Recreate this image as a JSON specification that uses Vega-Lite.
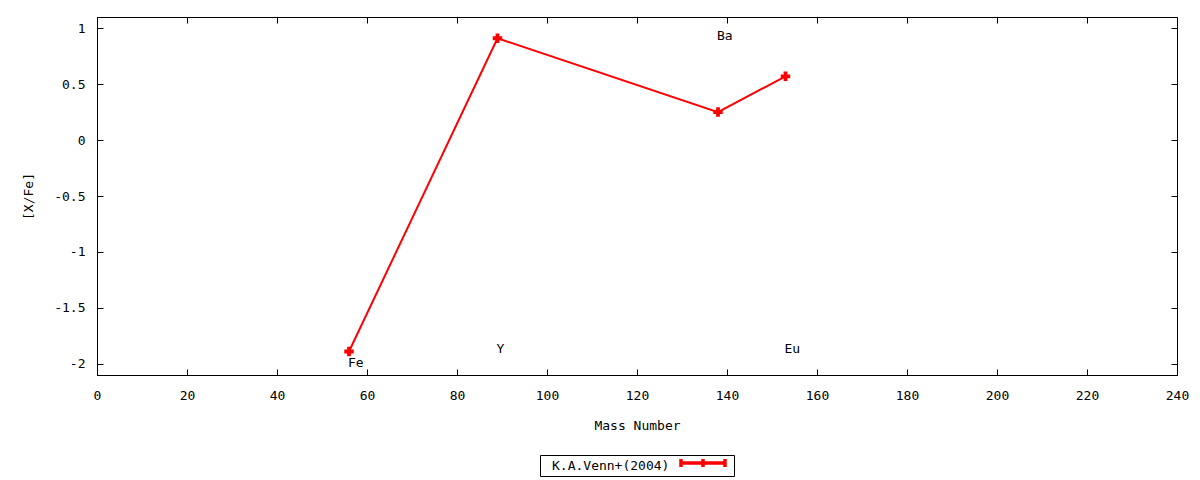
{
  "$schema": "https://vega.github.io/schema/vega-lite/v6.json",
  "width": 1080,
  "height": 358,
  "autosize": "none",
  "padding": {"left": 97, "top": 17, "right": 23, "bottom": 105},
  "background": "white",
  "config": {
    "font": "DejaVu Sans Mono",
    "view": {"stroke": "black", "strokeWidth": 1},
    "axis": {
      "labelFont": "DejaVu Sans Mono",
      "titleFont": "DejaVu Sans Mono",
      "labelFontSize": 13,
      "titleFontSize": 13,
      "labelColor": "black",
      "titleColor": "black",
      "titleFontWeight": "normal",
      "tickColor": "black",
      "domainColor": "black",
      "tickSize": -6,
      "grid": false,
      "labelExpr": "'' + datum.value"
    }
  },
  "datasets": {
    "pts": [
      {"mass": 56, "xfe": -1.89, "series": "K.A.Venn+(2004)"},
      {"mass": 89, "xfe": 0.91, "series": "K.A.Venn+(2004)"},
      {"mass": 138, "xfe": 0.25, "series": "K.A.Venn+(2004)"},
      {"mass": 153, "xfe": 0.57, "series": "K.A.Venn+(2004)"}
    ],
    "labels": [
      {"mass": 56, "ypos": -1.99, "element": "Fe"},
      {"mass": 89, "ypos": -1.865, "element": "Y"},
      {"mass": 138, "ypos": 0.93, "element": "Ba"},
      {"mass": 153, "ypos": -1.865, "element": "Eu"}
    ]
  },
  "resolve": {"axis": {"x": "independent", "y": "independent"}},
  "layer": [
    {
      "data": {"name": "pts"},
      "mark": {"type": "line", "strokeWidth": 2},
      "encoding": {
        "x": {"field": "mass", "type": "quantitative",
              "scale": {"domain": [0, 240], "nice": false, "zero": false},
              "axis": {"orient": "bottom", "title": "Mass Number", "values": [0,20,40,60,80,100,120,140,160,180,200,220,240], "labelPadding": 20, "titlePadding": 17, "labelFlush": false}},
        "y": {"field": "xfe", "type": "quantitative",
              "scale": {"domain": [-2.1, 1.1], "nice": false, "zero": false},
              "axis": {"orient": "left", "title": "[X/Fe]", "values": [-2,-1.5,-1,-0.5,0,0.5,1], "labelPadding": 18, "titlePadding": 18}},
        "color": {"field": "series", "type": "nominal",
                  "scale": {"range": ["#ff0000"]},
                  "legend": {
                    "orient": "none", "legendX": 443, "legendY": 438,
                    "title": "\u2800K.A.Venn+(2004)", "titleOrient": "left",
                    "titleFont": "DejaVu Sans Mono", "titleFontSize": 13, "titleFontWeight": "normal", "titleColor": "black",
                    "titlePadding": 27, "titleBaseline": "middle",
                    "labelExpr": "''", "labelOffset": 8, "labelFontSize": 1,
                    "symbolType": "M-5.5,0H5.5M-5.5,-1V1M0,-1V1M5.5,-1V1",
                    "symbolSize": 64, "symbolStrokeWidth": 3.5, "symbolStrokeColor": "#ff0000",
                    "strokeColor": "black", "padding": 2
                  }}
      }
    },
    {
      "data": {"name": "pts"},
      "mark": {"type": "point", "shape": "cross", "filled": true, "size": 90, "color": "#ff0000", "opacity": 1},
      "encoding": {
        "x": {"field": "mass", "type": "quantitative", "axis": null},
        "y": {"field": "xfe", "type": "quantitative", "axis": null}
      }
    },
    {
      "data": {"name": "labels"},
      "mark": {"type": "text", "align": "left", "baseline": "middle", "fontSize": 13, "font": "DejaVu Sans Mono", "color": "black", "dx": -1},
      "encoding": {
        "x": {"field": "mass", "type": "quantitative",
              "axis": {"orient": "top", "labels": false, "title": null, "domain": false, "values": [0,20,40,60,80,100,120,140,160,180,200,220,240]}},
        "y": {"field": "ypos", "type": "quantitative",
              "axis": {"orient": "right", "labels": false, "title": null, "domain": false, "values": [-2,-1.5,-1,-0.5,0,0.5,1]}},
        "text": {"field": "element"}
      }
    }
  ]
}
